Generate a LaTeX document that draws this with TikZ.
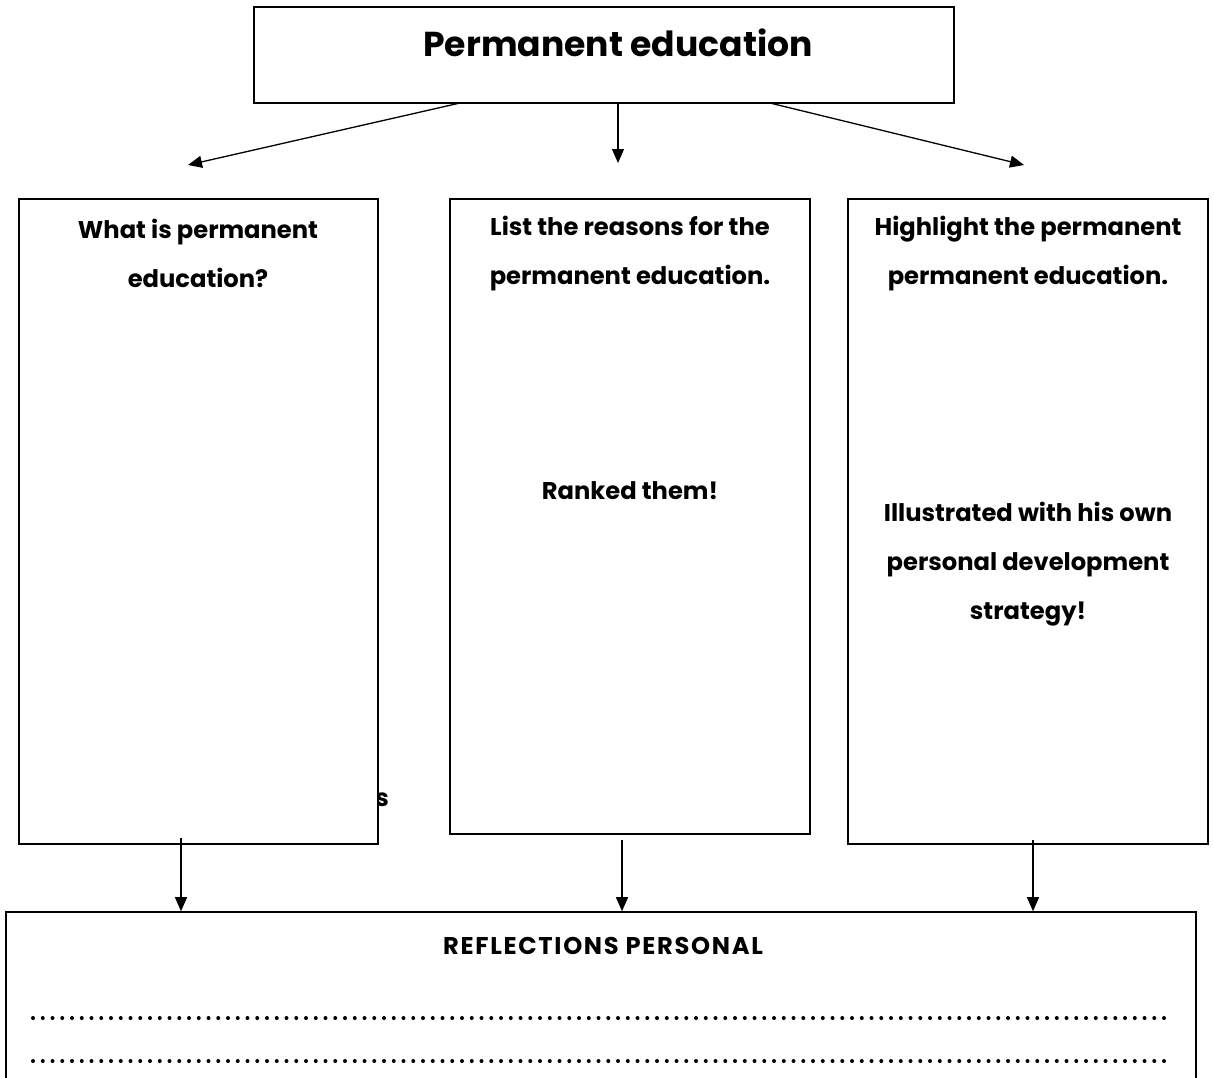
\documentclass[tikz,border=0pt]{standalone}
\usepackage{fontspec}
\setmainfont{Poppins}
\usetikzlibrary{arrows.meta}
\tikzset{
  panel/.style={draw=black, line width=1.6pt, fill=white, inner sep=0pt},
  arr/.style={line width=1.3pt, -{Triangle[length=14pt,width=12pt]}},
  lbl/.style={font=\bfseries\fontsize{24.2}{49}\selectfont, align=center, inner sep=0pt},
  dotline/.style={line width=4pt, line cap=round, dash pattern=on 0pt off 9.75pt},
}
\begin{document}
\begin{tikzpicture}[x=1pt,y=-1pt]
\useasboundingbox (0,0) rectangle (1214,1077);
\clip (0,0) rectangle (1214,1077);

% title box
\node[panel, minimum width=700pt, minimum height=96pt] (top) at (604,55) {};
\node[font=\bfseries\fontsize{34.6}{40}\selectfont, inner sep=0pt] (title) at (618,43) {Permanent education};

% stray glyph partly hidden by the first column
\node[lbl] (stray) at (382,800) {s};

% three columns
\node[panel, minimum width=359pt, minimum height=645pt] (b1) at (198.5,521.5) {};
\node[panel, minimum width=360pt, minimum height=635pt] (b2) at (630,516.5) {};
\node[panel, minimum width=360pt, minimum height=645pt] (b3) at (1028,521.5) {};

\node[lbl] (q1) at (198,253.5) {What is permanent\\education?};
\node[lbl] (q2) at (630,253.5) {List the reasons for the\\permanent education.};
\node[lbl] (r2) at (630,491) {Ranked them!};
\node[lbl] (q3) at (1028,253.5) {Highlight the permanent\\permanent education.};
\node[lbl] (r3) at (1028,564) {Illustrated with his own\\personal development\\strategy!};

% reflection box
\node[panel, minimum width=1190pt, minimum height=188pt] (refl) at (601,1006) {};
\node[lbl] (rt) at (603,946) {\addfontfeatures{LetterSpace=7}REFLECTIONS PERSONAL};
\draw[dotline] (33,1018) -- (1172,1018);
\draw[dotline] (33,1061) -- (1172,1061);

% connectors from the title
\coordinate (t1) at (460,103);
\coordinate (t2) at (618,103);
\coordinate (t3) at (770,103);
\coordinate (e1) at (188,165);
\coordinate (e2) at (618,163);
\coordinate (e3) at (1024,165);
\draw[arr] (t1) -- (e1);
\draw[arr] (t2) -- (e2);
\draw[arr] (t3) -- (e3);

% connectors into the reflection box
\coordinate (s1) at (181,838);
\coordinate (s2) at (622,840);
\coordinate (s3) at (1033,840);
\draw[arr] (s1) -- (s1 |- refl.north);
\draw[arr] (s2) -- (s2 |- refl.north);
\draw[arr] (s3) -- (s3 |- refl.north);
\end{tikzpicture}
\end{document}
